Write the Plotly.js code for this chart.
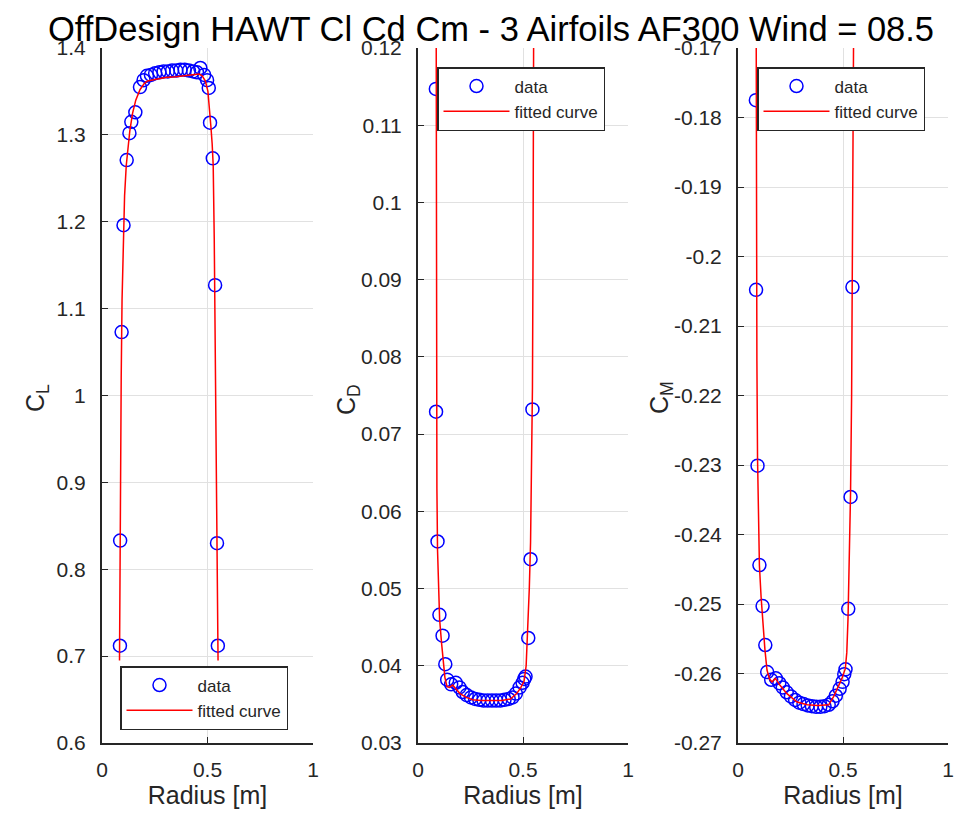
<!DOCTYPE html>
<html>
<head>
<meta charset="utf-8">
<script src="https://cdn.plot.ly/plotly-3.0.1.min.js"></script>
<style>html,body{margin:0;padding:0;background:#fff}#chart{width:954px;height:821px}</style>
</head>
<body>
<div id="chart"></div>
<script>
// ---- data ----
const radius = [0.085,0.086,0.093,0.102,0.117,0.130,0.139,0.158,0.180,0.197,0.213,0.232,0.252,0.272,0.292,0.312,0.332,0.352,0.372,0.392,0.412,0.432,0.450,0.466,0.484,0.498,0.506,0.512,0.525,0.536,0.545,0.549];
const cl = [0.712,0.833,1.073,1.196,1.271,1.302,1.315,1.326,1.355,1.363,1.368,1.369,1.371,1.372,1.373,1.373,1.374,1.374,1.375,1.375,1.374,1.373,1.372,1.377,1.369,1.363,1.354,1.314,1.273,1.127,0.830,0.712];
const cd = [0.1147,0.0729,0.0561,0.0466,0.0439,0.0402,0.0382,0.0376,0.0378,0.0372,0.0366,0.0362,0.0359,0.0357,0.0356,0.0355,0.0355,0.0355,0.0355,0.0355,0.0356,0.0357,0.0359,0.0364,0.0372,0.0378,0.0383,0.0386,0.0436,0.0538,0.0732,0.1147];
const cm = [-0.1775,-0.2048,-0.2301,-0.2444,-0.2503,-0.2559,-0.2598,-0.2609,-0.2607,-0.2614,-0.2620,-0.2627,-0.2633,-0.2638,-0.2642,-0.2644,-0.2646,-0.2647,-0.2648,-0.2648,-0.2647,-0.2645,-0.2640,-0.2632,-0.2622,-0.2612,-0.2601,-0.2594,-0.2507,-0.2346,-0.2044,-0.1775];

const fitRadiusCl = [0.083,0.085,0.088,0.091,0.095,0.100,0.107,0.115,0.123,0.132,0.145,0.160,0.180,0.200,0.215,0.250,0.300,0.350,0.400,0.440,0.460,0.475,0.490,0.502,0.510,0.516,0.522,0.527,0.532,0.536,0.540,0.544,0.548,0.550];
const fitCl = [0.695,0.800,0.920,1.020,1.110,1.180,1.230,1.265,1.285,1.305,1.325,1.340,1.352,1.359,1.362,1.364,1.366,1.367,1.368,1.369,1.370,1.368,1.362,1.350,1.330,1.310,1.290,1.265,1.180,1.070,0.960,0.850,0.740,0.695];

const fitRadiusCd = [0.0865,0.087,0.0875,0.088,0.090,0.093,0.097,0.103,0.112,0.120,0.128,0.138,0.150,0.165,0.180,0.200,0.230,0.260,0.300,0.350,0.400,0.440,0.470,0.490,0.505,0.515,0.522,0.530,0.536,0.541,0.545,0.548,0.551];
const fitCd = [0.125,0.105,0.090,0.075,0.063,0.055,0.050,0.046,0.043,0.0405,0.0385,0.0373,0.0372,0.0375,0.0370,0.0364,0.0359,0.0356,0.0355,0.0355,0.0355,0.0357,0.0364,0.0372,0.0380,0.0400,0.0440,0.0500,0.0560,0.0650,0.0760,0.0950,0.125];

const fitRadiusCm = [0.0865,0.087,0.088,0.090,0.093,0.097,0.102,0.110,0.118,0.128,0.138,0.150,0.162,0.178,0.200,0.233,0.281,0.330,0.380,0.432,0.456,0.480,0.495,0.511,0.518,0.524,0.530,0.536,0.541,0.545,0.548,0.551];
const fitCm = [-0.165,-0.180,-0.200,-0.215,-0.229,-0.238,-0.2445,-0.249,-0.2525,-0.2565,-0.2595,-0.2608,-0.2612,-0.2607,-0.2617,-0.2629,-0.2641,-0.2645,-0.2646,-0.2645,-0.2633,-0.2618,-0.2607,-0.2593,-0.2570,-0.2520,-0.2440,-0.2340,-0.2200,-0.2040,-0.1850,-0.165];

const xTickVals = [0, 0.5, 1];
const xTickText = ['0', '0.5', '1'];
const clTickVals = [0.6,0.7,0.8,0.9,1.0,1.1,1.2,1.3,1.4];
const clTickText = ['0.6','0.7','0.8','0.9','1','1.1','1.2','1.3','1.4'];
const cdTickVals = [0.03,0.04,0.05,0.06,0.07,0.08,0.09,0.10,0.11,0.12];
const cdTickText = ['0.03','0.04','0.05','0.06','0.07','0.08','0.09','0.1','0.11','0.12'];
const cmTickVals = [-0.27,-0.26,-0.25,-0.24,-0.23,-0.22,-0.21,-0.20,-0.19,-0.18,-0.17];
const cmTickText = ['-0.27','-0.26','-0.25','-0.24','-0.23','-0.22','-0.21','-0.2','-0.19','-0.18','-0.17'];

const titleText = 'OffDesign HAWT Cl Cd Cm - 3 Airfoils AF300 Wind = 08.5';
const xLabel = 'Radius [m]';
const yLabels = ['C<sub>L</sub>', 'C<sub>D</sub>', 'C<sub>M</sub>'];
const dataName = 'data';
const fitName = 'fitted curve';

// ---- styling ----
const FONT = 'Arial, "Liberation Sans", Helvetica, sans-serif';
const INK = '#262626';
const GRID = '#e1e1e1';
const W = 954, H = 821;
const yTop = 1 - 48 / H, yBot = 1 - 743 / H;

function dataTrace(x, y, xa, ya, lg) {
  return {x, y, xaxis: xa, yaxis: ya, type: 'scatter', mode: 'markers', name: dataName, legend: lg,
    marker: {symbol: 'circle-open', size: 13, color: '#0000ff', line: {width: 1.5, color: '#0000ff'}},
    cliponaxis: true, hoverinfo: 'x+y'};
}
function fitTrace(x, y, xa, ya, lg) {
  return {x, y, xaxis: xa, yaxis: ya, type: 'scatter', mode: 'lines', name: fitName, legend: lg,
    line: {color: '#ff0000', width: 1.5}, cliponaxis: true, hoverinfo: 'x+y'};
}

const traces = [
  dataTrace(radius, cl, 'x', 'y', 'legend'),
  fitTrace(fitRadiusCl, fitCl, 'x', 'y', 'legend'),
  dataTrace(radius, cd, 'x2', 'y2', 'legend2'),
  fitTrace(fitRadiusCd, fitCd, 'x2', 'y2', 'legend2'),
  dataTrace(radius, cm, 'x3', 'y3', 'legend3'),
  fitTrace(fitRadiusCm, fitCm, 'x3', 'y3', 'legend3')
];

function xAxis(left, right, anchor) {
  return {domain: [left / W, right / W], anchor, range: [0, 1], tickmode: 'array',
    tickvals: xTickVals, ticktext: xTickText, ticks: 'inside', ticklen: 6, tickwidth: 1, tickcolor: INK,
    showline: true, linecolor: INK, linewidth: 2, showgrid: true, gridcolor: GRID, gridwidth: 1,
    zeroline: false, tickfont: {family: FONT, size: 21, color: INK}, ticklabelstandoff: 7,
    title: {text: xLabel, font: {family: FONT, size: 25, color: INK}, standoff: 6}, fixedrange: true};
}
function yAxis(range, vals, text, anchor) {
  return {domain: [yBot, yTop], anchor, range, tickmode: 'array', tickvals: vals, ticktext: text,
    ticks: 'inside', ticklen: 6, tickwidth: 1, tickcolor: INK,
    showline: true, linecolor: INK, linewidth: 2, showgrid: true, gridcolor: GRID, gridwidth: 1,
    zeroline: false, tickfont: {family: FONT, size: 21, color: INK}, ticklabelstandoff: 10,
    fixedrange: true};
}
function legendAt(left, top) {
  return {x: left / W, y: 1 - top / H, xanchor: 'left', yanchor: 'top', bgcolor: '#ffffff',
    bordercolor: INK, borderwidth: 1.5, font: {family: FONT, size: 17, color: INK}, itemwidth: 66,
    tracegroupgap: 0};
}
function yTitle(text, cx, cy) {
  return {text, x: cx / W, y: 1 - cy / H, xref: 'paper', yref: 'paper', xanchor: 'center', yanchor: 'middle',
    textangle: -90, showarrow: false, font: {family: FONT, size: 25, color: INK}};
}

const layout = {
  width: W, height: H, margin: {l: 0, r: 0, t: 0, b: 0}, paper_bgcolor: '#fff', plot_bgcolor: '#fff',
  font: {family: FONT, color: INK},
  title: {text: titleText, font: {family: FONT, size: 34.5, color: '#000'}, xref: 'container', yref: 'container',
    x: 491 / W, xanchor: 'center', y: 1 - 29 / H, yanchor: 'middle'},
  showlegend: true,
  xaxis: xAxis(102, 313, 'y'),
  xaxis2: xAxis(418, 628, 'y2'),
  xaxis3: xAxis(738, 948, 'y3'),
  yaxis: yAxis([0.6, 1.4], clTickVals, clTickText, 'x'),
  yaxis2: yAxis([0.03, 0.12], cdTickVals, cdTickText, 'x2'),
  yaxis3: yAxis([-0.27, -0.17], cmTickVals, cmTickText, 'x3'),
  annotations: [yTitle(yLabels[0], 37, 398), yTitle(yLabels[1], 348, 400), yTitle(yLabels[2], 661, 398)],
  legend: legendAt(120, 666),
  legend2: legendAt(437, 67),
  legend3: legendAt(757, 67)
};

Plotly.newPlot('chart', traces, layout, {displayModeBar: false, staticPlot: true});
</script>
</body>
</html>
